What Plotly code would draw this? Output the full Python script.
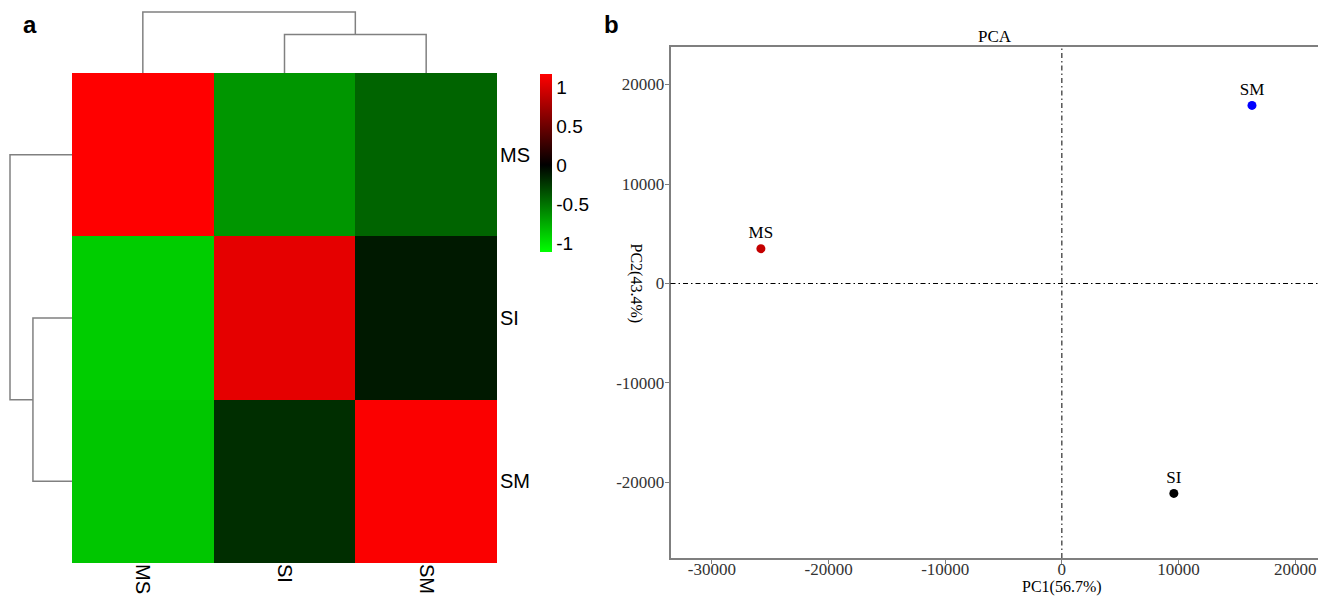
import plotly.graph_objects as go

# ---------------- data ----------------
samples = ["MS", "SI", "SM"]
# heatmap rows (top->bottom) and columns (left->right) in sample order
heat_z = [
    [1.17, -0.66, -0.44],
    [-0.90, 1.05, -0.11],
    [-0.87, -0.20, 1.15],
]
z_min, z_max = -1.12, 1.17
cbar_ticks = [-1, -0.5, 0, 0.5, 1]
cbar_ticktext = ["-1", "-0.5", "0", "0.5", "1"]

# dendrogram links: (left node, right node, height); leaves 0..2, merged nodes "c0", "c1"
col_links = [(1, 2, 1.26), ("c0", 0, 2.0)]
row_links = [(1, 2, 1.26), ("c0", 0, 2.0)]

pc1 = [-25800, 9600, 16300]
pc2 = [3500, -21100, 17900]
pc_colors = ["#C40000", "#000000", "#0000FF"]
pc_xticks = [-30000, -20000, -10000, 0, 10000, 20000]
pc_yticks = [-20000, -10000, 0, 10000, 20000]
pc_xrange = [-33550, 22130]
pc_yrange = [-27590, 23770]

# page has an 8px body margin; figure fills the rest of the window
OFF = 8
W, H = 1326 - OFF, 598 - OFF
def px(x): return (x - OFF) / W
def py(y): return (H - (y - OFF)) / H

def dendro_segments(links):
    pos = {i: float(i) for i in range(len(samples))}
    hgt = {i: 0.0 for i in range(len(samples))}
    a_list, b_list = [], []
    for k, (l, r, h) in enumerate(links):
        a_list += [pos[l], pos[l], pos[r], pos[r], None]
        b_list += [hgt[l], h, h, hgt[r], None]
        name = "c%d" % k
        pos[name] = (pos[l] + pos[r]) / 2
        hgt[name] = h
    return a_list, b_list

fig = go.Figure()

# heatmap
colorscale = [[0, "rgb(0,255,0)"], [(0 - z_min) / (z_max - z_min), "rgb(0,0,0)"], [1, "rgb(255,0,0)"]]
fig.add_trace(go.Heatmap(
    z=heat_z, x=list(range(len(samples))), y=list(range(len(samples))),
    zmin=z_min, zmax=z_max, colorscale=colorscale, xaxis="x", yaxis="y",
    hoverinfo="skip",
    colorbar=dict(
        x=px(540), xanchor="left", xref="paper", xpad=0, ypad=0,
        y=py(163.5), yanchor="middle", len=178, lenmode="pixels",
        thickness=12, thicknessmode="pixels", outlinewidth=0,
        tickvals=cbar_ticks, ticktext=cbar_ticktext, ticks="",
        tickfont=dict(family="Liberation Sans", size=19, color="black"),
    ),
))

# top dendrogram
cx, cy = dendro_segments(col_links)
fig.add_trace(go.Scatter(x=cx, y=cy, mode="lines", xaxis="x3", yaxis="y3",
                         line=dict(color="#808080", width=1.5), hoverinfo="skip", showlegend=False))
# left dendrogram
ry, rx = dendro_segments(row_links)
fig.add_trace(go.Scatter(x=rx, y=ry, mode="lines", xaxis="x4", yaxis="y4",
                         line=dict(color="#808080", width=1.5), hoverinfo="skip", showlegend=False))

# PCA points
fig.add_trace(go.Scatter(
    x=pc1, y=pc2, mode="markers+text", text=samples, textposition="top center",
    textfont=dict(family="Liberation Serif", size=17, color="black"),
    marker=dict(color=pc_colors, size=9), xaxis="x2", yaxis="y2",
    hoverinfo="skip", showlegend=False, cliponaxis=False,
))

hm_dom_x = [px(72), px(497)]
hm_dom_y = [py(563), py(73)]
cat_range = [-0.5, len(samples) - 0.5]
hidden = dict(showgrid=False, zeroline=False, showticklabels=False, ticks="", showline=False)
pc_font = dict(family="Liberation Serif", size=17, color="#333333")
pc_axis = dict(showgrid=False, zeroline=False, showline=True, mirror=True,
               linecolor="#7f7f7f", linewidth=1.5, ticks="outside", ticklen=4,
               tickcolor="#7f7f7f", tickwidth=1.2, tickfont=pc_font)

top_h = max(l[2] for l in col_links)
fig.update_layout(
    width=W, height=H, margin=dict(l=0, r=0, t=0, b=0),
    paper_bgcolor="white", plot_bgcolor="white", showlegend=False,
    xaxis=dict(domain=hm_dom_x, range=cat_range, tickvals=list(range(len(samples))),
               ticktext=samples, tickangle=90, showgrid=False, zeroline=False, ticks="",
               tickfont=dict(family="Liberation Sans", size=20, color="black"), anchor="y"),
    yaxis=dict(domain=hm_dom_y, range=cat_range[::-1], tickvals=list(range(len(samples))),
               ticktext=samples, side="right", showgrid=False, zeroline=False, ticks="",
               ticklabelstandoff=2,
               tickfont=dict(family="Liberation Sans", size=20, color="black"), anchor="x"),
    xaxis3=dict(domain=hm_dom_x, range=cat_range, anchor="y3", **hidden),
    yaxis3=dict(domain=[py(73), py(73 - 61 * 2.05 / top_h)], range=[0, 2.05], anchor="x3", **hidden),
    xaxis4=dict(domain=[px(72 - 62 * 2.05 / top_h), px(72)], range=[2.05, 0], anchor="y4", **hidden),
    yaxis4=dict(domain=hm_dom_y, range=cat_range[::-1], anchor="x4", **hidden),
    xaxis2=dict(domain=[px(670.5), px(1320)], range=pc_xrange, tickvals=pc_xticks,
                ticktext=[str(v) for v in pc_xticks], ticklabelstandoff=-9,
                anchor="y2", **pc_axis),
    yaxis2=dict(domain=[py(558), py(47)], range=pc_yrange, tickvals=pc_yticks,
                ticktext=[str(v) for v in pc_yticks], ticklabelstandoff=-3,
                anchor="x2", **pc_axis),
)

# reference lines at 0
dash = "5px,3px,1.5px,3px"
fig.add_shape(type="line", xref="x2", yref="y2 domain", x0=0, x1=0, y0=0, y1=1,
              line=dict(color="black", width=1, dash=dash))
fig.add_shape(type="line", xref="x2 domain", yref="y2", x0=0, x1=1, y0=0, y1=0,
              line=dict(color="black", width=1, dash=dash))

# annotations
fig.add_annotation(text="<b>a</b>", x=px(21), y=py(24), xref="paper", yref="paper",
                   xanchor="left", yanchor="middle", showarrow=False,
                   font=dict(family="Liberation Sans", size=24, color="black"))
fig.add_annotation(text="<b>b</b>", x=px(602), y=py(24), xref="paper", yref="paper",
                   xanchor="left", yanchor="middle", showarrow=False,
                   font=dict(family="Liberation Sans", size=24, color="black"))
fig.add_annotation(text="PCA", x=px(995), y=py(36), xref="paper", yref="paper",
                   xanchor="center", yanchor="middle", showarrow=False,
                   font=dict(family="Liberation Serif", size=17, color="black"))
fig.add_annotation(text="PC1(56.7%)", x=0, xref="x2", y=py(587), yref="paper",
                   xanchor="center", yanchor="middle", showarrow=False,
                   font=dict(family="Liberation Serif", size=16, color="black"))
fig.add_annotation(text="PC2(43.4%)", x=px(636), xref="paper", y=0, yref="y2",
                   xanchor="center", yanchor="middle", textangle=90, showarrow=False,
                   font=dict(family="Liberation Serif", size=16, color="black"))

fig.write_html("out.html")
